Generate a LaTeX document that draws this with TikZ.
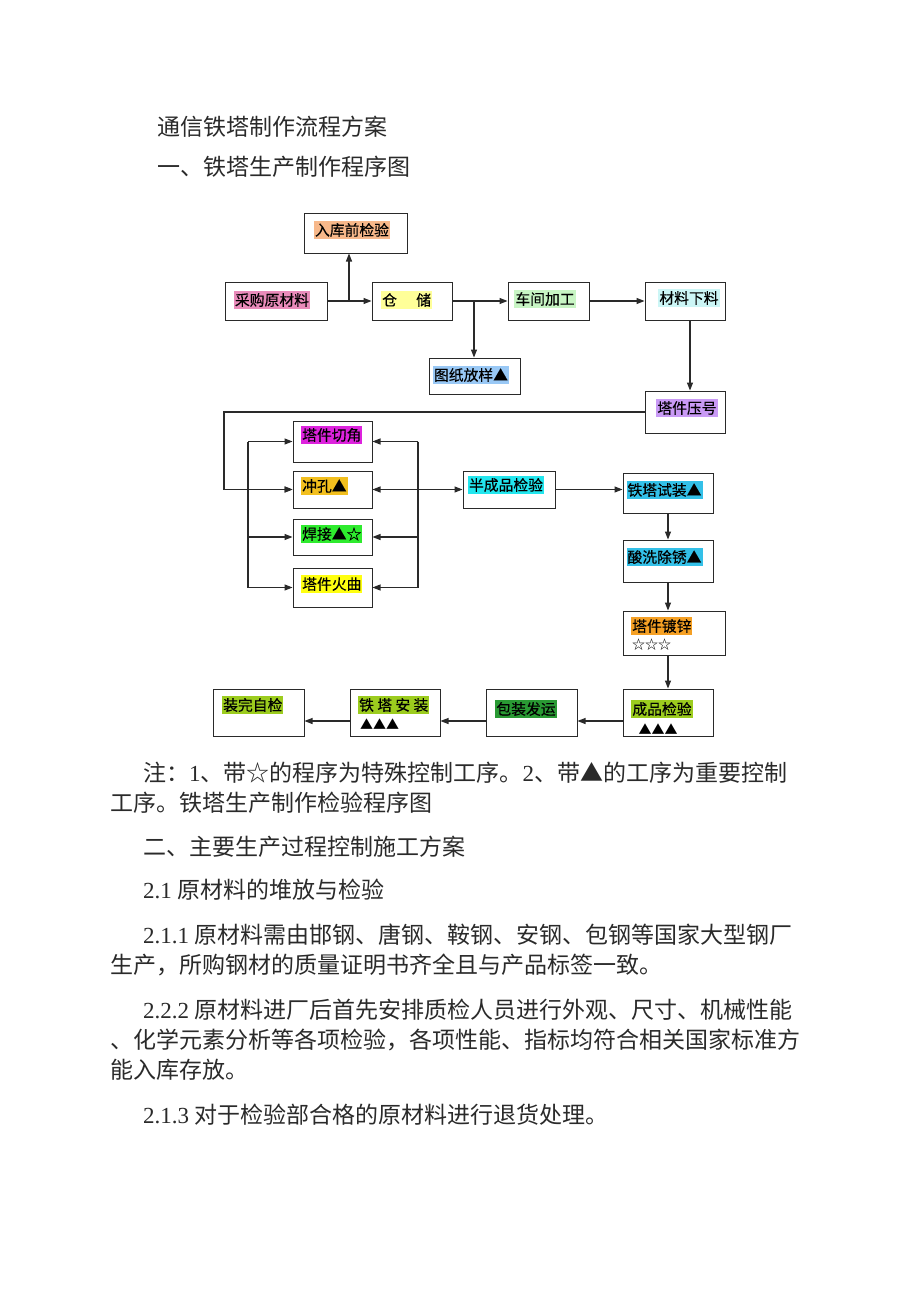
\documentclass[tikz,border=0pt]{standalone}
\usepackage{fontspec}
\setmainfont{Liberation Serif}
\newfontfamily\cjk{Noto Sans CJK SC}
\newfontfamily\cjkbox[FakeBold=0.3]{Noto Sans CJK SC}
\newfontfamily\tnr{Liberation Serif}
\usepackage{tikz}
\usetikzlibrary{ arrows.meta, % For the small filled tips
                 positioning, % For easy node-relative placements
               }
\definecolor{peach}{HTML}{F7B88A}
\definecolor{rose}{HTML}{E98BBA}
\definecolor{paleyellow}{HTML}{FFFF99}
\definecolor{palegreen}{HTML}{C8F5C4}
\definecolor{palecyan}{HTML}{CCF6F6}
\definecolor{skyblue}{HTML}{99C8F5}
\definecolor{lavender}{HTML}{C99AF5}
\definecolor{magent}{HTML}{DD22DD}
\definecolor{gold}{HTML}{F2BF1E}
\definecolor{brightgreen}{HTML}{2EEB2E}
\definecolor{lemon}{HTML}{FFFF10}
\definecolor{aqua}{HTML}{22E6EE}
\definecolor{steel}{HTML}{33C0E8}
\definecolor{amber}{HTML}{F5A024}
\definecolor{olive}{HTML}{9CCC1E}
\definecolor{forest}{HTML}{2A9A34}
\definecolor{ink}{HTML}{2A2A2A}

\begin{document}
\begin{tikzpicture}[x=1pt, y=-1pt,
    box/.style={draw=ink, line width=1pt, inner sep=0pt},
    lbl/.style={inner xsep=1pt, inner ysep=2.5pt, text=black,
                font=\cjkbox\fontsize{14.8}{16}\selectfont},
    txt/.style={anchor=west, inner sep=0pt, text=ink,
                font=\cjk\fontsize{23}{26}\selectfont},
    arr/.style={draw=ink, line width=1.1pt, -{Triangle[length=8pt,width=6pt]}},
    ln/.style={draw=ink, line width=1.1pt},
  ]
    \fill[white] (0,0) rectangle (920,1302);
    \useasboundingbox (0,0) rectangle (920,1302);

    % page text above the chart
    \node[txt] (title) at (157,127) {通信铁塔制作流程方案};
    \node[txt] (head1) at (157,167) {一、铁塔生产制作程序图};

    % boxes
    \node[box, minimum width=103pt, minimum height=40pt] (ruku) at (355.5,233) {};
    \node[box, minimum width=102pt, minimum height=38pt] (caigou) at (276,301) {};
    \node[box, minimum width=80pt, minimum height=38pt] (cangchu) at (412,301) {};
    \node[box, minimum width=81pt, minimum height=38pt] (chejian) at (548.5,301) {};
    \node[box, minimum width=80pt, minimum height=38pt] (xialiao) at (685,301) {};
    \node[box, minimum width=91pt, minimum height=36pt] (tuzhi) at (474.5,376) {};
    \node[box, minimum width=80pt, minimum height=42pt] (yahao) at (685,412) {};
    \node[box, minimum width=79pt, minimum height=41pt] (qiejiao) at (332.5,441.5) {};
    \node[box, minimum width=79pt, minimum height=37pt] (chongkong) at (332.5,489.5) {};
    \node[box, minimum width=79pt, minimum height=36pt] (hanjie) at (332.5,537) {};
    \node[box, minimum width=79pt, minimum height=39pt] (huoqu) at (332.5,587.5) {};
    \node[box, minimum width=92pt, minimum height=37pt] (banchengpin) at (509,489.5) {};
    \node[box, minimum width=90pt, minimum height=40pt] (shizhuang) at (668,493) {};
    \node[box, minimum width=90pt, minimum height=42pt] (suanxi) at (668,561) {};
    \node[box, minimum width=102pt, minimum height=44pt] (duxin) at (674,633) {};
    \node[box, minimum width=90pt, minimum height=47pt] (chengpin) at (668,712.5) {};
    \node[box, minimum width=91pt, minimum height=47pt] (baozhuang) at (531.5,712.5) {};
    \node[box, minimum width=90pt, minimum height=47pt] (anzhuang) at (395,712.5) {};
    \node[box, minimum width=91pt, minimum height=47pt] (zijian) at (258.5,712.5) {};

    % labels
    \node[lbl, fill=peach] (l-ruku) at (352,230) {入库前检验};
    \node[lbl, fill=rose] (l-caigou) at (272,300) {采购原材料};
    \node[lbl, fill=paleyellow, anchor=west] (l-cangchu) at (381,300) {仓\hspace{1.3em}储};
    \node[lbl, fill=palegreen] (l-chejian) at (545,299) {车间加工};
    \node[lbl, fill=palecyan] (l-xialiao) at (689,298) {材料下料};
    \node[lbl, fill=skyblue] (l-tuzhi) at (471,375) {图纸放样▲};
    \node[lbl, fill=lavender] (l-yahao) at (687,408) {塔件压号};
    \node[lbl, fill=magent, anchor=west] (l-qiejiao) at (301,435) {塔件切角};
    \node[lbl, fill=gold, anchor=west] (l-chongkong) at (301,486) {冲孔▲};
    \node[lbl, fill=brightgreen, anchor=west] (l-hanjie) at (301,534) {焊接▲☆};
    \node[lbl, fill=lemon, anchor=west] (l-huoqu) at (301,584) {塔件火曲};
    \node[lbl, fill=aqua] (l-banchengpin) at (506,485) {半成品检验};
    \node[lbl, fill=steel] (l-shizhuang) at (664.5,490) {铁塔试装▲};
    \node[lbl, fill=steel] (l-suanxi) at (664.5,557) {酸洗除锈▲};
    \node[lbl, fill=amber, anchor=west] (l-duxin) at (631,626) {塔件镀锌};
    \node[lbl, anchor=west, font=\cjk\fontsize{13}{14}\selectfont] (s-duxin) at (631,645) {☆☆☆};
    \node[lbl, fill=olive] (l-chengpin) at (662,709) {成品检验};
    \node[lbl, font=\cjk\fontsize{13}{14}\selectfont] (s-chengpin) at (658,729) {▲▲▲};
    \node[lbl, fill=forest] (l-baozhuang) at (526,709) {包装发运};
    \node[lbl, fill=olive, anchor=west] (l-anzhuang) at (358,705) {铁 塔 安 装};
    \node[lbl, anchor=west, font=\cjk\fontsize{13}{14}\selectfont] (s-anzhuang) at (359,724) {▲▲▲};
    \node[lbl, fill=olive, anchor=west] (l-zijian) at (222,705) {装完自检};

    % connectors
    \coordinate (b1) at (349,301);
    \coordinate (b2) at (474,301);
    \draw[arr] (caigou.east) -- (cangchu.west);
    \draw[arr] (b1) -- (b1 |- ruku.south);
    \draw[arr] (cangchu.east) -- (chejian.west);
    \draw[arr] (b2) -- (b2 |- tuzhi.north);
    \draw[arr] (chejian.east) -- (xialiao.west);
    \draw[arr] ([xshift=5pt]xialiao.south) -- ([xshift=5pt]yahao.north);

    \coordinate (c1) at (224,412);
    \draw[arr] (yahao.west) -- (c1) |- (chongkong.west);

    \coordinate (lbus) at (248,0);
    \coordinate (rbus) at (418,0);
    \draw[ln] (lbus |- qiejiao.west) -- (lbus |- huoqu.west);
    \draw[ln] (rbus |- qiejiao.east) -- (rbus |- huoqu.east);
    \foreach \n in {qiejiao,chongkong,hanjie,huoqu} {
      \draw[arr] (lbus |- \n.west) -- (\n.west);
      \draw[arr] (rbus |- \n.east) -- (\n.east);
    }
    \draw[arr] (rbus |- chongkong.east) -- (banchengpin.west);
    \draw[arr] (banchengpin.east) -- (banchengpin.east -| shizhuang.west);
    \draw[arr] (shizhuang.south) -- (suanxi.north);
    \draw[arr] (suanxi.south) -- (suanxi.south |- duxin.north);
    \draw[arr] (chengpin.north |- duxin.south) -- (chengpin.north);
    \draw[arr] ([yshift=-8.5pt]chengpin.west) -- ([yshift=-8.5pt]baozhuang.east);
    \draw[arr] ([yshift=-8.5pt]baozhuang.west) -- ([yshift=-8.5pt]anzhuang.east);
    \draw[arr] ([yshift=-8.5pt]anzhuang.west) -- ([yshift=-8.5pt]zijian.east);

    % page text below the chart
    \node[txt] (note1) at (143,773) {注：{\tnr 1}、带☆的程序为特殊控制工序。{\tnr 2}、带▲的工序为重要控制};
    \node[txt] (note2) at (110,803) {工序。铁塔生产制作检验程序图};
    \node[txt] (head2) at (143,847) {二、主要生产过程控制施工方案};
    \node[txt] (sec21) at (143,890) {{\tnr 2.1 }原材料的堆放与检验};
    \node[txt] (p211a) at (143,935) {{\tnr 2.1.1 }原材料需由邯钢、唐钢、鞍钢、安钢、包钢等国家大型钢厂};
    \node[txt] (p211b) at (110,965) {生产，所购钢材的质量证明书齐全且与产品标签一致。};
    \node[txt] (p222a) at (143,1010) {{\tnr 2.2.2 }原材料进厂后首先安排质检人员进行外观、尺寸、机械性能};
    \node[txt] (p222b) at (110,1040) {、化学元素分析等各项检验，各项性能、指标均符合相关国家标准方};
    \node[txt] (p222c) at (110,1070) {能入库存放。};
    \node[txt] (p213) at (143,1115) {{\tnr 2.1.3 }对于检验部合格的原材料进行退货处理。};
\end{tikzpicture}
\end{document}
